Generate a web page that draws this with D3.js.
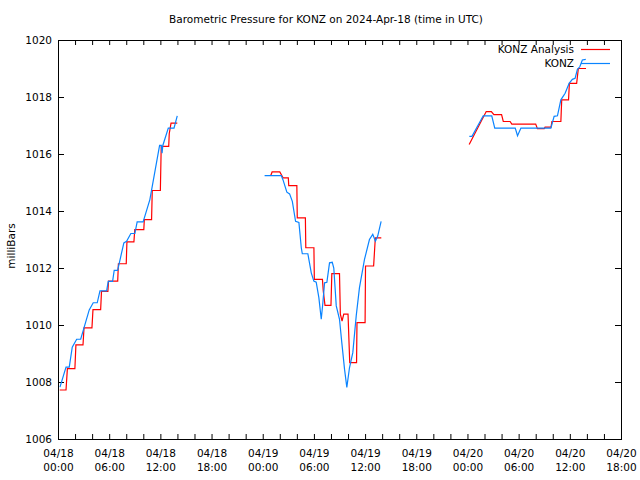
<!DOCTYPE html>
<html><head><meta charset="utf-8">
<script src="https://cdn.jsdelivr.net/npm/d3@7"></script>
<style>
body{margin:0;background:#fff}
svg{display:block}
text{font-family:"DejaVu Sans",sans-serif;font-size:10.5px;fill:#000}
</style>
</head><body>
<svg id="c" width="640" height="480"></svg>
<script>
// ---- chart texts ----
const titleText = "Barometric Pressure for KONZ on 2024-Apr-18 (time in UTC)";
const yLabelText = "milliBars";
const seriesNames = ["KONZ Analysis", "KONZ"];
const seriesColors = ["#ff0000", "#0a84ff"];

// ---- axes ----
const startTime = Date.UTC(2024, 3, 18, 0, 0);
const endHours = 66;
const yTicks = [1006, 1008, 1010, 1012, 1014, 1016, 1018, 1020];
const xLabelHours = [0, 6, 12, 18, 24, 30, 36, 42, 48, 54, 60, 66];
const xTickHours = d3.range(0, 67, 2);

// ---- data: [hours since 04/18 00:00 UTC, millibars] ----
// KONZ observations
const obs1 = [[0.23,1007.82],[0.94,1008.52],[1.32,1008.52],[1.67,1009.22],[2.19,1009.5],[2.66,1009.5],
  [3.66,1010.53],[4.13,1010.78],[4.6,1010.78],[4.92,1011.2],[5.7,1011.2],[5.89,1011.53],[6.4,1011.53],
  [6.59,1011.92],[6.99,1011.92],[7.72,1012.88],[8.04,1012.94],[8.54,1013.21],[9.01,1013.21],[9.28,1013.62],
  [9.98,1013.62],[10.77,1014.4],[11.91,1016.3],[12.11,1016.3],[12.2,1016.03],[12.29,1016.3],[12.93,1016.91],
  [13.6,1016.91],[13.98,1017.34]];
const obs2 = [[24.22,1015.24],[26.18,1015.24],[26.37,1015.1],[26.83,1014.66],[27.15,1014.6],[27.47,1014.34],
  [27.85,1013.64],[28.24,1013.6],[28.52,1012.71],[28.64,1012.5],[29.29,1012.5],[29.69,1011.83],[29.99,1011.54],
  [30.27,1011.5],[30.58,1010.96],[30.86,1010.2],[31.05,1010.78],[31.25,1011.48],[31.52,1011.5],[31.83,1012.18],
  [32.15,1012.2],[32.33,1012.0],[32.62,1010.67],[33.0,1010.2],[33.27,1009.38],[33.59,1008.45],[33.86,1007.81],
  [34.17,1008.5],[34.56,1009.03],[34.96,1010.32],[35.34,1011.31],[35.93,1012.3],[36.51,1013.0],[36.9,1013.18],
  [37.21,1012.94],[37.48,1013.12],[37.88,1013.64]];
const obs3 = [[48.22,1016.62],[48.53,1016.62],[49.85,1017.34],[50.85,1017.34],[51.2,1016.91],[53.6,1016.91],
  [53.87,1016.64],[54.27,1016.91],[57.78,1016.91],[58.16,1017.32],[58.55,1017.34],[58.95,1017.9],[59.45,1018.13],
  [59.92,1018.48],[60.3,1018.62],[60.62,1018.66],[60.89,1018.97],[61.17,1019.06],[61.47,1019.3],[61.87,1019.32]];
// KONZ Analysis
const ana1 = [[0.2,1007.72],[0.94,1007.72],[1.1,1008.47],[1.98,1008.47],[2.1,1009.3],[2.93,1009.3],[3.05,1009.9],
  [3.98,1009.9],[4.1,1010.54],[5.0,1010.54],[5.1,1011.18],[5.85,1011.18],[5.92,1011.54],[7.0,1011.54],[7.08,1012.15],
  [8.0,1012.15],[8.08,1012.92],[8.9,1012.92],[9.0,1013.35],[10.06,1013.35],[10.12,1013.7],[10.97,1013.7],
  [11.05,1014.72],[12.0,1014.72],[12.1,1016.27],[12.98,1016.27],[13.04,1016.71],[13.25,1017.08],[13.98,1017.08]];
const ana2 = [[24.93,1015.24],[25.1,1015.37],[26.0,1015.37],[26.4,1015.16],[27.0,1015.16],[27.05,1014.89],
  [28.0,1014.89],[28.05,1013.76],[29.0,1013.76],[29.05,1012.71],[30.0,1012.71],[30.05,1011.6],[31.0,1011.6],
  [31.1,1011.19],[31.3,1010.69],[32.0,1010.69],[32.1,1011.8],[33.0,1011.8],[33.1,1010.38],[33.3,1010.14],
  [33.5,1010.38],[34.0,1010.38],[34.2,1008.68],[35.0,1008.68],[35.05,1010.08],[36.0,1010.08],[36.05,1012.07],
  [37.0,1012.07],[37.2,1013.06],[37.9,1013.06]];
const ana3 = [[48.2,1016.33],[50.2,1017.49],[50.8,1017.49],[51.1,1017.38],[52.0,1017.38],[52.2,1017.14],
  [53.0,1017.14],[53.2,1017.05],[56.0,1017.05],[56.2,1016.89],[57.0,1016.89],[57.1,1016.94],[57.8,1016.94],
  [57.9,1017.14],[58.95,1017.14],[59.05,1017.9],[59.85,1017.9],[59.95,1018.48],[60.8,1018.48],[61.0,1019.0],
  [61.9,1019.0]];

const analysisSegments = [ana1, ana2, ana3];
const obsSegments = [obs1, obs2, obs3];

// ---- drawing ----
const svg = d3.select("#c");
const toDate = h => new Date(startTime + h * 3600e3);
const x = d3.scaleUtc().domain([toDate(0), toDate(endHours)]).range([58, 621]);
const y = d3.scaleLinear().domain([1006, 1020]).range([439, 40]);

function styleAxis(g) {
  g.select(".domain").remove();
  g.selectAll("line").attr("stroke", "#000");
  g.attr("font-family", null).attr("font-size", null);
}

svg.append("g").attr("transform", "translate(58,0)")
  .call(d3.axisLeft(y).tickValues(yTicks).tickSize(-6).tickPadding(6).tickFormat(d3.format("d")))
  .call(styleAxis);
svg.append("g").attr("transform", "translate(621,0)")
  .call(d3.axisRight(y).tickValues(yTicks).tickSize(-6).tickFormat(""))
  .call(styleAxis);
svg.append("g").attr("transform", "translate(0,439)")
  .call(d3.axisBottom(x).tickValues(xTickHours.map(toDate)).tickSize(-5).tickFormat(""))
  .call(styleAxis);
svg.append("g").attr("transform", "translate(0,40)")
  .call(d3.axisTop(x).tickValues(xTickHours.map(toDate)).tickSize(-5).tickFormat(""))
  .call(styleAxis);

// frame
svg.append("rect").attr("x", 58.5).attr("y", 40.5).attr("width", 563).attr("height", 399)
  .attr("fill", "none").attr("stroke", "#000");

// x labels (two lines)
const fmtDay = d3.utcFormat("%m/%d"), fmtTime = d3.utcFormat("%H:%M");
const xl = svg.append("g").selectAll("text").data(xLabelHours).join("text")
  .attr("text-anchor", "middle");
xl.append("tspan").attr("x", d => x(toDate(d)) + 0.5).attr("y", 457).text(d => fmtDay(toDate(d)));
xl.append("tspan").attr("x", d => x(toDate(d)) + 0.5).attr("y", 471).text(d => fmtTime(toDate(d)));

// title & y label
svg.append("text").attr("x", 326).attr("y", 23).attr("text-anchor", "middle").text(titleText);
svg.append("text").attr("transform", "translate(15,246) rotate(-90)").attr("text-anchor", "middle").text(yLabelText);

// series
const line = d3.line().x(d => x(toDate(d[0]))).y(d => y(d[1]));
const plot = svg.append("g").attr("fill", "none").attr("stroke-width", 1.2);
plot.selectAll("path.ana").data(analysisSegments).join("path").attr("class", "ana")
  .attr("stroke", seriesColors[0]).attr("d", line);
plot.selectAll("path.obs").data(obsSegments).join("path").attr("class", "obs")
  .attr("stroke", seriesColors[1]).attr("d", line);

// legend
const legendY = [49, 63];
const lg = svg.append("g").selectAll("g").data(seriesNames).join("g");
lg.append("text").attr("x", 574).attr("y", (d, i) => legendY[i] + 4).attr("text-anchor", "end").text(d => d);
lg.append("line").attr("x1", 581).attr("x2", 610).attr("y1", (d, i) => legendY[i] + 0.5).attr("y2", (d, i) => legendY[i] + 0.5)
  .attr("stroke", (d, i) => seriesColors[i]).attr("stroke-width", 1.2);
</script>
</body></html>
